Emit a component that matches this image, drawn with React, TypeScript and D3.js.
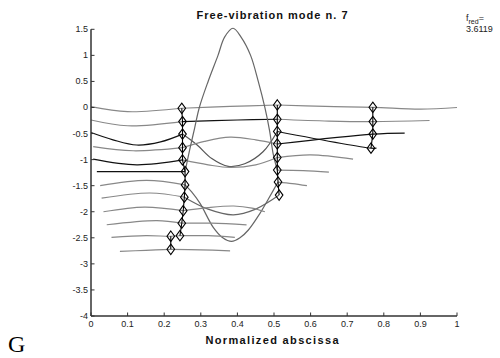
import React from "react";
import * as d3 from "d3";

// ---- data ----
const xTicks = [0, 0.1, 0.2, 0.3, 0.4, 0.5, 0.6, 0.7, 0.8, 0.9, 1];
const xTickLabels = ["0", "0.1", "0.2", "0.3", "0.4", "0.5", "0.6", "0.7", "0.8", "0.9", "1"];
const yTicks = [-4, -3.5, -3, -2.5, -2, -1.5, -1, -0.5, 0, 0.5, 1, 1.5];
const yTickLabels = ["-4", "-3.5", "-3", "-2.5", "-2", "-1.5", "-1", "-0.5", "0", "0.5", "1", "1.5"];

// section lines, split into pieces: [left piece, middle piece, right piece]
const s1 = [
  [[0, 0.015], [0.1, -0.08], [0.248, -0.015]],
  [[0.248, -0.015], [0.38, 0.02], [0.509, 0.048]],
  [[0.509, 0.048], [0.64, 0.02], [0.77, 0.004], [0.9, -0.03], [1.0, 0.0]],
];
const s2 = [
  [[0, -0.24], [0.1, -0.35], [0.25, -0.27]],
  [[0.25, -0.27], [0.4, -0.24], [0.509, -0.226]],
  [[0.509, -0.226], [0.65, -0.26], [0.77, -0.27], [0.925, -0.25]],
];
const s3 = [
  [[0, -0.48], [0.06, -0.62], [0.125, -0.72], [0.19, -0.66], [0.25, -0.51]],
  [[0.25, -0.51], [0.29, -0.72], [0.33, -0.98], [0.375, -1.13], [0.42, -1.08], [0.47, -0.85], [0.509, -0.46]],
  [[0.509, -0.46], [0.765, -0.78], [0.78, -0.78]],
];
const s4 = [
  [[0.006, -0.75], [0.115, -0.83], [0.25, -0.77]],
  [[0.25, -0.77], [0.31, -0.65], [0.38, -0.57], [0.45, -0.62], [0.509, -0.7]],
  [[0.509, -0.7], [0.77, -0.51], [0.857, -0.49]],
];
const s5 = [
  [[0.006, -0.99], [0.125, -1.1], [0.25, -1.006]],
  [[0.25, -1.006], [0.32, -1.1], [0.38, -1.15], [0.45, -1.1], [0.509, -0.96]],
  [[0.509, -0.96], [0.6, -0.91], [0.716, -0.99]],
];
const s6 = [
  [[0.016, -1.23], [0.13, -1.23], [0.257, -1.23]],
  [[0.257, -1.23], [0.27, -0.8], [0.283, -0.4], [0.296, 0], [0.32, 0.5], [0.347, 1.0], [0.365, 1.35], [0.388, 1.52], [0.41, 1.35], [0.436, 1.0], [0.457, 0.5], [0.475, 0], [0.488, -0.45], [0.498, -0.9], [0.509, -1.2]],
  [[0.509, -1.2], [0.58, -1.21], [0.65, -1.24]],
];
const s7 = [
  [[0.025, -1.5], [0.152, -1.4], [0.257, -1.485]],
  [[0.257, -1.485], [0.275, -1.62], [0.298, -1.84], [0.334, -2.3], [0.36, -2.5], [0.384, -2.57], [0.407, -2.5], [0.43, -2.35], [0.46, -2.05], [0.485, -1.75], [0.511, -1.43]],
  [[0.511, -1.43], [0.55, -1.46], [0.59, -1.5]],
];
const s8 = [
  [[0.029, -1.74], [0.161, -1.64], [0.255, -1.72]],
  [[0.255, -1.72], [0.32, -1.95], [0.389, -2.06], [0.45, -1.95], [0.514, -1.68]],
];
const s9 = [
  [[0.034, -2.0], [0.146, -1.91], [0.252, -1.98]],
  [[0.252, -1.98], [0.32, -1.92], [0.39, -1.89], [0.44, -1.93], [0.475, -2.0]],
];
const s10 = [
  [[0.043, -2.25], [0.18, -2.17], [0.248, -2.22]],
  [[0.248, -2.22], [0.33, -2.22], [0.425, -2.25]],
];
const s11 = [
  [[0.056, -2.49], [0.15, -2.46], [0.218, -2.47], [0.243, -2.46]],
  [[0.243, -2.46], [0.32, -2.46], [0.393, -2.49]],
];
const s12 = [
  [[0.079, -2.76], [0.15, -2.74], [0.218, -2.72]],
  [[0.218, -2.72], [0.3, -2.73], [0.38, -2.75]],
];
const sections = [s1, s2, s3, s4, s5, s6, s7, s8, s9, s10, s11, s12];

// nodes (diamond markers) along the three chord columns
const leftNodes = [
  [0.248, -0.015], [0.25, -0.27], [0.25, -0.51], [0.25, -0.77], [0.25, -1.006],
  [0.257, -1.23], [0.257, -1.485], [0.255, -1.72], [0.252, -1.98], [0.248, -2.22], [0.243, -2.46],
];
const leftTipNodes = [[0.218, -2.47], [0.218, -2.72]];
const midNodes = [
  [0.509, 0.048], [0.509, -0.226], [0.509, -0.46], [0.509, -0.7], [0.509, -0.96],
  [0.509, -1.2], [0.511, -1.43], [0.514, -1.68],
];
const rightNodes = [[0.77, 0.004], [0.77, -0.27], [0.77, -0.51], [0.765, -0.78]];

const titleText = "Free-vibration mode n. 7";
const xLabelText = "Normalized abscissa";
const fredValue = "3.6119";

// ---- styles ----
const GRAY = "#888";
const DARK = "#111";
const pieceColors = [
  [GRAY, GRAY, GRAY],
  [GRAY, DARK, GRAY],
  [DARK, "#555", DARK],
  [GRAY, GRAY, DARK],
  [DARK, GRAY, GRAY],
  [DARK, "#666", GRAY],
  [GRAY, "#666", GRAY],
  [GRAY, "#666"],
  [GRAY, GRAY],
  [GRAY, GRAY],
  [GRAY, GRAY],
  [GRAY, GRAY],
];

export default function App() {
  const W = 500, H = 358;
  const x = d3.scaleLinear().domain([0, 1]).range([91, 457]);
  const y = d3.scaleLinear().domain([-4, 1.5]).range([316, 29.3]);
  const line = d3
    .line<number[]>()
    .x((d) => x(d[0]))
    .y((d) => y(d[1]))
    .curve(d3.curveCatmullRom.alpha(0.5));
  const straight = d3
    .line<number[]>()
    .x((d) => x(d[0]))
    .y((d) => y(d[1]));

  const diamond = (p: number[], key: string) => {
    const cx = x(p[0]), cy = y(p[1]);
    return (
      <path
        key={key}
        d={`M${cx},${cy - 5.2}L${cx + 3.8},${cy}L${cx},${cy + 5.2}L${cx - 3.8},${cy}Z`}
        fill="none"
        stroke="#000"
        strokeWidth={1.1}
      />
    );
  };

  const font = "'Liberation Sans', Arial, sans-serif";

  return (
    <svg
      width={W}
      height={H}
      style={{ position: "fixed", left: 0, top: 0, background: "#fff" }}
      fontFamily={font}
    >
      <rect width={W} height={H} fill="#fff" />
      {/* section lines */}
      {sections.map((sec, i) =>
        sec.map((piece, j) => (
          <path
            key={`s${i}-${j}`}
            d={line(piece as number[][]) || ""}
            fill="none"
            stroke={pieceColors[i][j]}
            strokeWidth={1.2}
          />
        ))
      )}
      {/* column connectors */}
      <path d={straight(leftNodes as number[][]) || ""} fill="none" stroke="#000" strokeWidth={1.1} />
      <path d={straight(leftTipNodes as number[][]) || ""} fill="none" stroke="#000" strokeWidth={1.1} />
      <path d={straight(midNodes as number[][]) || ""} fill="none" stroke="#000" strokeWidth={1.1} />
      <path d={straight(rightNodes as number[][]) || ""} fill="none" stroke="#000" strokeWidth={1.1} />
      {/* markers */}
      {leftNodes.map((p, i) => diamond(p, `l${i}`))}
      {leftTipNodes.map((p, i) => diamond(p, `lt${i}`))}
      {midNodes.map((p, i) => diamond(p, `m${i}`))}
      {rightNodes.map((p, i) => diamond(p, `r${i}`))}

      {/* axes */}
      <line x1={x(0)} x2={x(0)} y1={y(1.5)} y2={y(-4)} stroke="#333" strokeWidth={1.5} />
      <line x1={x(0)} x2={x(1)} y1={y(-4)} y2={y(-4)} stroke="#333" strokeWidth={1.5} />
      {yTicks.map((t, i) => (
        <g key={`yt${i}`}>
          <line x1={x(0)} x2={x(0) + 3.5} y1={y(t)} y2={y(t)} stroke="#333" strokeWidth={1} />
          <text x={x(0) - 3} y={y(t) + 3} textAnchor="end" fontSize={9} fill="#222">
            {yTickLabels[i]}
          </text>
        </g>
      ))}
      {xTicks.map((t, i) => (
        <g key={`xt${i}`}>
          <line x1={x(t)} x2={x(t)} y1={y(-4)} y2={y(-4) - 3.5} stroke="#333" strokeWidth={1} />
          <text x={x(t)} y={327} textAnchor="middle" fontSize={9} fill="#222">
            {xTickLabels[i]}
          </text>
        </g>
      ))}

      {/* titles */}
      <text x={272} y={19} textAnchor="middle" fontSize={11} fontWeight="bold" fill="#111" textLength={151} lengthAdjust="spacing">
        {titleText}
      </text>
      <text x={272} y={344} textAnchor="middle" fontSize={11} fontWeight="bold" fill="#111" textLength={133} lengthAdjust="spacing">
        {xLabelText}
      </text>
      <text x={466} y={21} fontSize={9} fill="#222">
        f
        <tspan fontSize={7} dy={3}>red</tspan>
        <tspan dy={-3}>=</tspan>
      </text>
      <text x={466} y={32} fontSize={9} fill="#222">
        {fredValue}
      </text>
      <text x={8} y={352} fontSize={24} fontFamily="'Liberation Serif', 'Times New Roman', serif" fill="#000">
        G
      </text>
    </svg>
  );
}
